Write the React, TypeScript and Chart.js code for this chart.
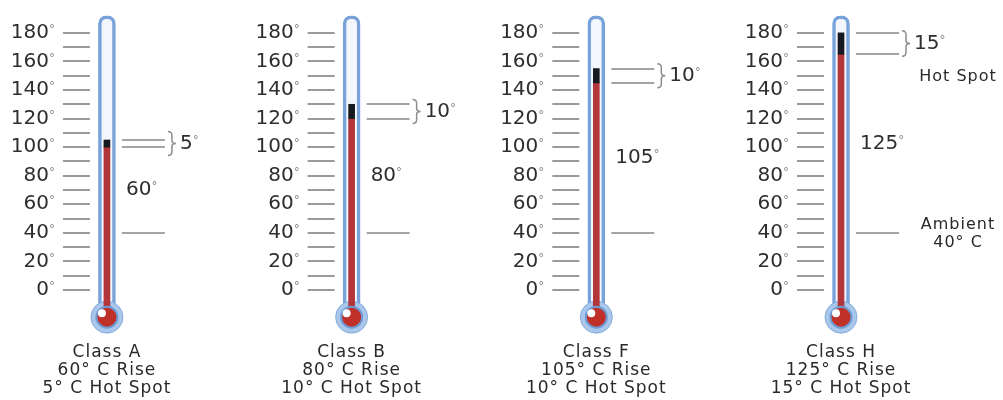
import React, { useEffect, useRef } from 'react';
import { Chart, registerables } from 'chart.js';

Chart.register(...registerables);

// ---- data ----
const classNames = ['Class A', 'Class B', 'Class F', 'Class H'];
const riseValues = [60, 80, 105, 125];
const hotSpotValues = [5, 10, 10, 15];
const ambientTemp = 40;
const tickValues = [0, 20, 40, 60, 80, 100, 120, 140, 160, 180];
const tickLabels = ['0', '20', '40', '60', '80', '100', '120', '140', '160', '180'];
const minorTickValues = [0, 10, 20, 30, 40, 50, 60, 70, 80, 90, 100, 110, 120, 130, 140, 150, 160, 170, 180];
const tubeTopValue = 192;
const bulbValue = -19;
const positions = [0, 1, 2, 3];

const FONT = '"DejaVu Sans", Verdana, sans-serif';

function degText(ctx: CanvasRenderingContext2D, txt: string, x: number, y: number, align: 'left' | 'right', size: number) {
  ctx.font = `${size}px ${FONT}`;
  ctx.textBaseline = 'middle';
  ctx.textAlign = 'left';
  ctx.fillStyle = '#2e2e2e';
  const w = ctx.measureText(txt).width;
  const left = align === 'right' ? x - w : x;
  ctx.fillText(txt, left, y);
  ctx.font = `${Math.round(size * 0.6)}px ${FONT}`;
  ctx.fillStyle = '#8a8a8a';
  ctx.fillText('°', left + w, y - size * 0.15);
}

function hline(ctx: CanvasRenderingContext2D, x1: number, x2: number, yy: number) {
  const py = Math.round(yy);
  ctx.beginPath();
  ctx.moveTo(x1, py);
  ctx.lineTo(x2, py);
  ctx.stroke();
}

const thermoPlugin = {
  id: 'thermo',
  afterDatasetsDraw(chart: any) {
    const { ctx } = chart;
    const xs = chart.scales.x;
    const ys = chart.scales.y;
    ctx.save();
    positions.forEach((p, i) => {
      const cx = xs.getPixelForValue(p);
      const redTop = ambientTemp + riseValues[i];
      const hotTop = redTop + hotSpotValues[i];

      // scale ticks
      ctx.strokeStyle = '#9a9a9a';
      ctx.lineWidth = 2;
      minorTickValues.forEach((v) => hline(ctx, cx - 44, cx - 17, ys.getPixelForValue(v)));
      tickValues.forEach((v, k) => degText(ctx, tickLabels[k], cx - 58, ys.getPixelForValue(v), 'right', 20));

      // right marker lines
      ctx.strokeStyle = '#a4a4a4';
      [ambientTemp, redTop, hotTop].forEach((v) => hline(ctx, cx + 15, cx + 58, ys.getPixelForValue(v)));

      // brace
      const yA = ys.getPixelForValue(hotTop);
      const yB = ys.getPixelForValue(redTop);
      const ym = (yA + yB) / 2;
      const half = Math.max(12, (yB - yA) / 2 + 2);
      const t = ym - half;
      const b = ym + half;
      const x0 = cx + 61;
      ctx.strokeStyle = '#8c8c8c';
      ctx.lineWidth = 1.5;
      ctx.beginPath();
      ctx.moveTo(x0, t);
      ctx.quadraticCurveTo(x0 + 4, t, x0 + 4, t + 4);
      ctx.lineTo(x0 + 4, ym - 3);
      ctx.quadraticCurveTo(x0 + 4, ym, x0 + 8, ym);
      ctx.quadraticCurveTo(x0 + 4, ym, x0 + 4, ym + 3);
      ctx.lineTo(x0 + 4, b - 4);
      ctx.quadraticCurveTo(x0 + 4, b, x0, b);
      ctx.stroke();

      degText(ctx, String(hotSpotValues[i]), cx + 73, ym, 'left', 20);
      degText(ctx, String(riseValues[i]), cx + 19, ys.getPixelForValue((ambientTemp + redTop) / 2), 'left', 20);

      // bulb highlight
      const by = ys.getPixelForValue(bulbValue);
      ctx.fillStyle = '#ffffff';
      ctx.beginPath();
      ctx.arc(cx - 5, by - 4, 4, 0, Math.PI * 2);
      ctx.fill();

      // captions
      ctx.fillStyle = '#2a2a2a';
      ctx.font = `17px ${FONT}`;
      ctx.textAlign = 'center';
      ctx.textBaseline = 'middle';
      (ctx as any).letterSpacing = '1px';
      ctx.fillText(classNames[i], cx, by + 35);
      ctx.fillText(`${riseValues[i]}° C Rise`, cx, by + 53);
      ctx.fillText(`${hotSpotValues[i]}° C Hot Spot`, cx, by + 71);
      (ctx as any).letterSpacing = '0px';

      if (i === positions.length - 1) {
        ctx.font = `16px ${FONT}`;
        (ctx as any).letterSpacing = '1px';
        ctx.fillText('Hot Spot', cx + 117, ys.getPixelForValue(hotTop) + 44);
        ctx.fillText('Ambient', cx + 117, ys.getPixelForValue(ambientTemp) - 8);
        ctx.fillText(`${ambientTemp}° C`, cx + 117, ys.getPixelForValue(ambientTemp) + 10);
        (ctx as any).letterSpacing = '0px';
      }
    });
    ctx.restore();
  },
};

export default function App() {
  const ref = useRef<HTMLCanvasElement | null>(null);
  useEffect(() => {
    document.body.style.margin = '0';
    const canvas = ref.current;
    if (!canvas) return;
    const redTops = riseValues.map((r) => ambientTemp + r);
    const chart = new Chart(canvas, {
      type: 'bar',
      data: {
        datasets: [
          {
            type: 'bar',
            label: 'tube',
            data: positions.map((p) => ({ x: p, y: [bulbValue, tubeTopValue] })) as any,
            backgroundColor: '#f3f7fd',
            borderColor: '#78a2da',
            borderWidth: 3.5,
            borderSkipped: 'bottom',
            borderRadius: { topLeft: 8, topRight: 8, bottomLeft: 0, bottomRight: 0 },
            barThickness: 17,
            grouped: false,
            order: 6,
          } as any,
          {
            type: 'scatter',
            label: 'bulb',
            data: positions.map((p) => ({ x: p, y: bulbValue })),
            pointRadius: 16,
            backgroundColor: '#a9c7ea',
            borderColor: '#86acdc',
            borderWidth: 1,
            order: 5,
          } as any,
          {
            type: 'bar',
            label: 'rise',
            data: positions.map((p, i) => ({ x: p, y: [bulbValue, redTops[i]] })) as any,
            backgroundColor: '#b2363a',
            borderWidth: 0,
            barThickness: 6,
            grouped: false,
            order: 4,
          } as any,
          {
            type: 'bar',
            label: 'hot spot',
            data: positions.map((p, i) => ({ x: p, y: [redTops[i], redTops[i] + hotSpotValues[i]] })) as any,
            backgroundColor: '#16191f',
            borderWidth: 0,
            barThickness: 6,
            grouped: false,
            order: 3,
          } as any,
          {
            type: 'scatter',
            label: 'bulb core',
            data: positions.map((p) => ({ x: p, y: bulbValue })),
            pointRadius: 10.5,
            backgroundColor: '#bf3028',
            borderColor: '#6d9bd5',
            borderWidth: 2,
            order: 2,
          } as any,
        ],
      },
      options: {
        animation: false,
        responsive: false,
        layout: { padding: 0, autoPadding: false },
        scales: {
          x: { type: 'linear', min: -0.437, max: 3.662, display: false, offset: false },
          y: { type: 'linear', min: -77, max: 203, display: false },
        },
        plugins: {
          legend: { display: false },
          tooltip: { enabled: false },
        },
      },
      plugins: [thermoPlugin],
    });
    return () => chart.destroy();
  }, []);
  return (
    <div style={{ width: 1003, height: 400, background: '#ffffff' }}>
      <canvas ref={ref} width={1003} height={400} style={{ display: 'block' }} />
    </div>
  );
}
